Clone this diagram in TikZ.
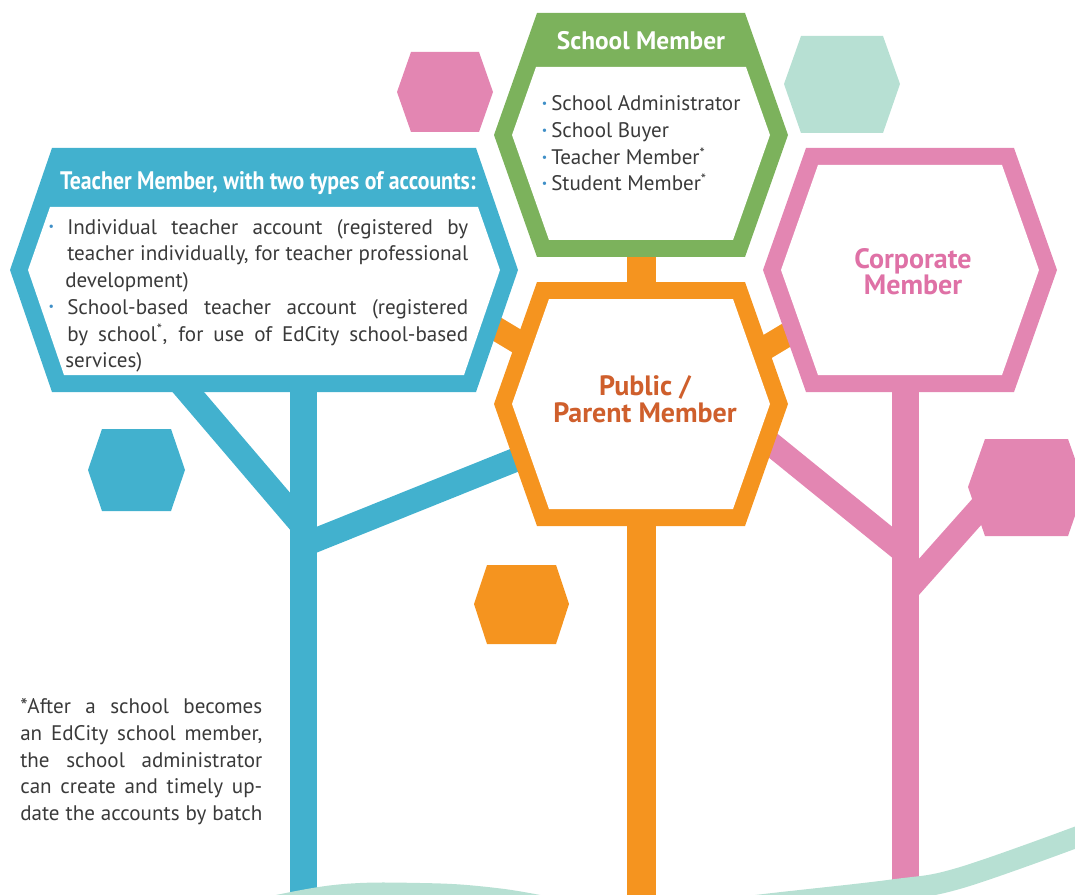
\documentclass[tikz,border=0pt]{standalone}
\usepackage{fontspec}
\setmainfont{PT Sans}
\newfontfamily\narrowfont{PT Sans}[FakeStretch=0.86]
\usepackage{tikz}

\definecolor{tealc}{HTML}{42B1CE}
\definecolor{greenc}{HTML}{7CB25C}
\definecolor{orangec}{HTML}{F5941F}
\definecolor{pinkc}{HTML}{E386B2}
\definecolor{mintc}{HTML}{B7E0D3}
\definecolor{publictext}{HTML}{CF5F2C}
\definecolor{corptext}{HTML}{DF71A6}
\definecolor{textgray}{HTML}{3A3A3A}
\definecolor{dotblue}{HTML}{3F8FC7}

\newcommand\dotb[1]{\llap{\raisebox{2.4pt}{\textcolor{dotblue}{\fontsize{9}{9}\selectfont\textbullet}}\hspace{#1}}}

\begin{document}
\begin{tikzpicture}[x=0.75pt,y=0.75pt,yscale=-1,xscale=1,
  stem/.style={line width=20.25pt},
  limb/.style={line width=18pt},
  bodytext/.style={inner sep=0pt,text=textgray,font=\fontsize{15.8}{20}\selectfont},
  headtext/.style={inner sep=0pt,font=\fontsize{21}{22}\selectfont\bfseries}]
\useasboundingbox (0,0) rectangle (1075,895);
\clip (0,0) rectangle (1075,895);

%Coordinates of the trees
\coordinate (tA) at (303.5,380);
\coordinate (tB) at (303.5,900);
\coordinate (tC) at (178,380);
\coordinate (tD) at (303.5,527);
\coordinate (tE) at (303.5,545);
\coordinate (tF) at (525,456);
\coordinate (oA) at (641,250);
\coordinate (oB) at (641,290);
\coordinate (oC) at (641,520);
\coordinate (oD) at (641,900);
\coordinate (oE) at (465,310);
\coordinate (oF) at (540,355);
\coordinate (oG) at (740,363);
\coordinate (oH) at (815,318);
\coordinate (pA) at (905.5,380);
\coordinate (pB) at (905.5,890);
\coordinate (pC) at (760,435);
\coordinate (pD) at (905.5,553);
\coordinate (pE) at (905.5,592);
\coordinate (pF) at (990,497);

%Straight Lines
\draw [tealc,stem] (tA) -- (tB) ;
\draw [tealc,limb] (tC) -- (tD) ;
\draw [tealc,limb] (tE) -- (tF) ;
%Straight Lines
\draw [orangec,line width=21.75pt] (oA) -- (oB) ;
\draw [orangec,line width=21.75pt] (oC) -- (oD) ;
\draw [orangec,limb] (oE) -- (oF) ;
\draw [orangec,limb] (oG) -- (oH) ;
%Straight Lines
\draw [pinkc,stem] (pA) -- (pB) ;
\draw [pinkc,limb] (pC) -- (pD) ;
\draw [pinkc,limb] (pE) -- (pF) ;

%Shape: Hexagon
\fill [tealc] (10,270) -- (52,148) -- (476,148) -- (518,270) -- (476,392) -- (52,392) -- cycle ;
\fill [white] (28,270) -- (50,207) -- (478,207) -- (500,270) -- (464,375) -- (64,375) -- cycle ;
%Shape: Hexagon
\fill [greenc] (494,135) -- (537,13) -- (745,13) -- (788,135) -- (745,257) -- (537,257) -- cycle ;
\fill [white] (512,135) -- (536,67) -- (746,67) -- (770,135) -- (733,240) -- (549,240) -- cycle ;
%Shape: Hexagon
\fill [orangec] (494,404) -- (537,282) -- (745,282) -- (788,404) -- (745,526) -- (537,526) -- cycle ;
\fill [white] (512,404) -- (549,299) -- (733,299) -- (770,404) -- (733,509) -- (549,509) -- cycle ;
%Shape: Hexagon
\fill [pinkc] (763,270) -- (806,148) -- (1014,148) -- (1057,270) -- (1014,392) -- (806,392) -- cycle ;
\fill [white] (781,270) -- (818,165) -- (1002,165) -- (1039,270) -- (1002,375) -- (818,375) -- cycle ;

%Shape: Hexagon
\fill [pinkc] (397,92) -- (411,52) -- (479,52) -- (493,92) -- (479,132) -- (411,132) -- cycle ;
%Shape: Hexagon
\fill [mintc] (784,84) -- (801,36) -- (883,36) -- (900,84) -- (883,133) -- (801,133) -- cycle ;
%Shape: Hexagon
\fill [tealc] (88,470) -- (102,429) -- (171,429) -- (185,470) -- (171,511) -- (102,511) -- cycle ;
%Shape: Hexagon
\fill [orangec] (474,604) -- (487,565) -- (556,565) -- (569,604) -- (556,644) -- (487,644) -- cycle ;
%Shape: Hexagon
\fill [pinkc] (968,487) -- (985,439) -- (1068,439) -- (1085,487) -- (1068,536) -- (985,536) -- cycle ;

%Curve Lines
\draw [mintc,line width=15.75pt] plot [smooth,tension=0.6] coordinates {(220,918) (330,896) (420,893.5) (500,899) (640,920) (760,905) (892,890) (960,878) (1085,834)} ;

% Text Node
\node [headtext,text=white,anchor=base,font=\fontsize{19}{20}\selectfont\bfseries] (gtitle) at (641,50) {School Member};
% Text Node
\node [bodytext,anchor=base west] (g1) at (551,111) {\dotb{3pt}School Administrator};
\node [bodytext,anchor=base west] (g2) at (551,138) {\dotb{3pt}School Buyer};
\node [bodytext,anchor=base west] (g3) at (551,165) {\dotb{3pt}Teacher Member\textsuperscript{*}};
\node [bodytext,anchor=base west] (g4) at (551,191) {\dotb{3pt}Student Member\textsuperscript{*}};

% Text Node
\node [headtext,text=white,anchor=base,font=\narrowfont\fontsize{19}{20}\selectfont\bfseries] (ttitle) at (268,190) {Teacher Member, with two types of accounts:};
% Text Node
\node [bodytext,anchor=base west] (t1) at (67,234) {\dotb{10pt}\makebox[300.75pt][s]{Individual teacher account (registered by}};
\node [bodytext,anchor=base west] (t2) at (67,261) {\makebox[300.75pt][s]{teacher individually, for teacher professional}};
\node [bodytext,anchor=base west] (t3) at (65,287) {development)};
\node [bodytext,anchor=base west] (t4) at (67,314) {\dotb{10pt}\makebox[300.75pt][s]{School-based teacher account (registered}};
\node [bodytext,anchor=base west] (t5) at (67,341) {\makebox[300.75pt][s]{by school\textsuperscript{*}, for use of EdCity school-based}};
\node [bodytext,anchor=base west] (t6) at (65,367) {services)};

% Text Node
\node [headtext,text=publictext,anchor=base] (pp1) at (645,395) {Public /};
\node [headtext,text=publictext,anchor=base] (pp2) at (645,422) {Parent Member};
% Text Node
\node [headtext,text=corptext,anchor=base] (c1) at (913,268) {Corporate};
\node [headtext,text=corptext,anchor=base] (c2) at (913,294) {Member};

% Text Node
\node [bodytext,anchor=base west] (f1) at (20,713) {\makebox[181.5pt][s]{*After a school becomes}};
\node [bodytext,anchor=base west] (f2) at (20,740) {\makebox[181.5pt][s]{an EdCity school member,}};
\node [bodytext,anchor=base west] (f3) at (20,767) {\makebox[181.5pt][s]{the school administrator}};
\node [bodytext,anchor=base west] (f4) at (20,793) {\makebox[181.5pt][s]{can create and timely up-}};
\node [bodytext,anchor=base west] (f5) at (20,820) {\makebox[181.5pt][s]{date the accounts by batch}};

\end{tikzpicture}
\end{document}
